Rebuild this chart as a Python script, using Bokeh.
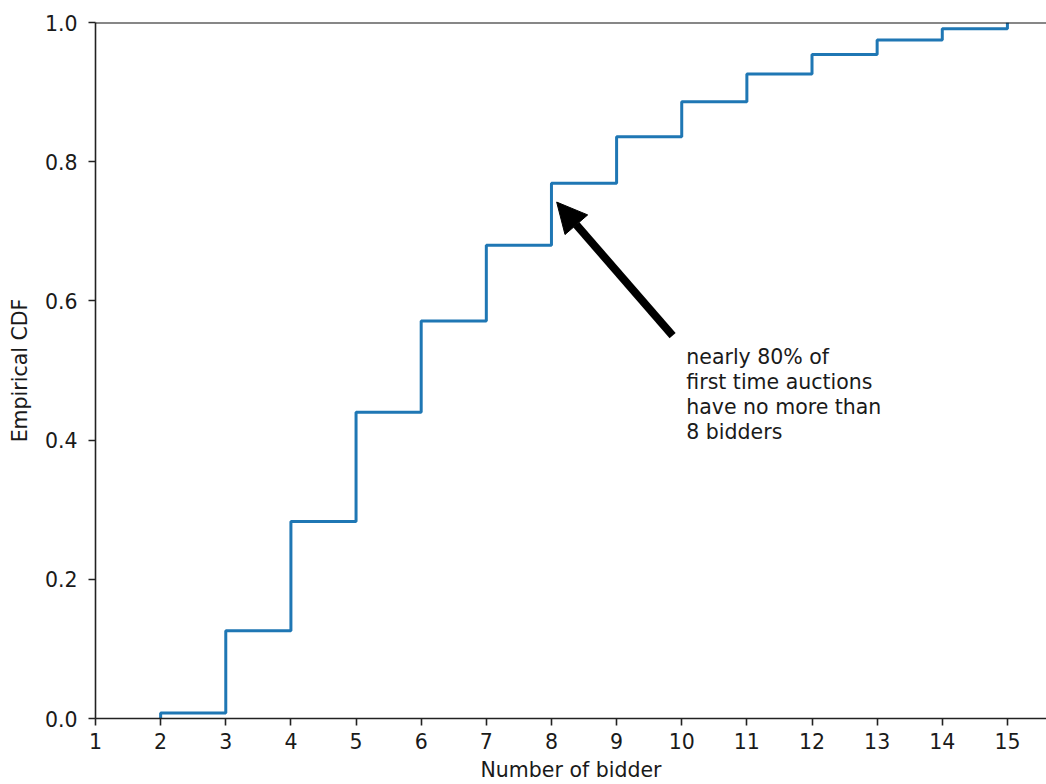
from bokeh.plotting import figure
from bokeh.models import Range1d, FixedTicker, Span, Arrow, NormalHead, Label, CustomJSTickFormatter
from bokeh.embed import file_html
from bokeh.resources import INLINE

# Data: number of bidders and empirical CDF level reached at each count
bidders = [2, 3, 4, 5, 6, 7, 8, 9, 10, 11, 12, 13, 14, 15]
ecdf = [0.008, 0.126, 0.283, 0.440, 0.571, 0.680, 0.769, 0.836, 0.886, 0.926, 0.954, 0.975, 0.991, 1.0]
x_ticks = list(range(1, 16))
y_ticks = [0.0, 0.2, 0.4, 0.6, 0.8, 1.0]
note_lines = ["nearly 80% of", "first time auctions", "have no more than", "8 bidders"]
arrow_from = (9.86, 0.55)
arrow_to = (8.08, 0.742)
note_at = (10.07, 0.537)

FONT = "DejaVu Sans"
FS = "20.5px"
INK = "#1a1a1a"

p = figure(width=1046, height=784, output_backend="svg", toolbar_location=None,
           x_range=Range1d(1, 15.6), y_range=Range1d(0, 1.0),
           min_border_left=95, min_border_top=22, min_border_right=0, min_border_bottom=66)
p.outline_line_color = None
p.grid.visible = False
p.background_fill_color = "white"
p.border_fill_color = "white"

sx = [bidders[0]] + bidders
sy = [0.0] + ecdf
p.step(sx, sy, mode="after", line_color="#1f77b4", line_width=3)

top_spine = Span(location=1.0, dimension="width", line_color="#111111", line_width=1.8)
p.add_layout(top_spine)

for ax in (p.xaxis[0], p.yaxis[0]):
    ax.axis_line_color = "#222222"
    ax.axis_line_width = 1.6
    ax.major_tick_line_color = "#222222"
    ax.major_tick_line_width = 1.6
    ax.major_tick_out = 7
    ax.major_tick_in = 0
    ax.minor_tick_line_color = None
    ax.major_label_text_font = FONT
    ax.major_label_text_font_size = FS
    ax.major_label_text_color = INK
    ax.axis_label_text_font = FONT
    ax.axis_label_text_font_size = FS
    ax.axis_label_text_font_style = "normal"
    ax.axis_label_text_color = INK

p.xaxis.ticker = FixedTicker(ticks=x_ticks)
p.yaxis.ticker = FixedTicker(ticks=y_ticks)
p.yaxis.formatter = CustomJSTickFormatter(code="return tick.toFixed(1);")
p.xaxis.major_label_standoff = 7
p.yaxis.major_label_standoff = 11
p.xaxis.axis_label = "Number of bidder"
p.yaxis.axis_label = "Empirical CDF"
p.xaxis.axis_label_standoff = 6
p.yaxis.axis_label_standoff = 10

p.add_layout(Arrow(end=NormalHead(size=30, fill_color="black", line_color="black"),
                   x_start=arrow_from[0], y_start=arrow_from[1],
                   x_end=arrow_to[0], y_end=arrow_to[1],
                   line_color="black", line_width=8))

p.add_layout(Label(x=note_at[0], y=note_at[1], text="\n".join(note_lines),
                   text_font=FONT, text_font_size=FS, text_color=INK,
                   text_baseline="top", text_align="left", text_line_height=1.05))

open("out.html", "w").write(file_html(p, INLINE))
